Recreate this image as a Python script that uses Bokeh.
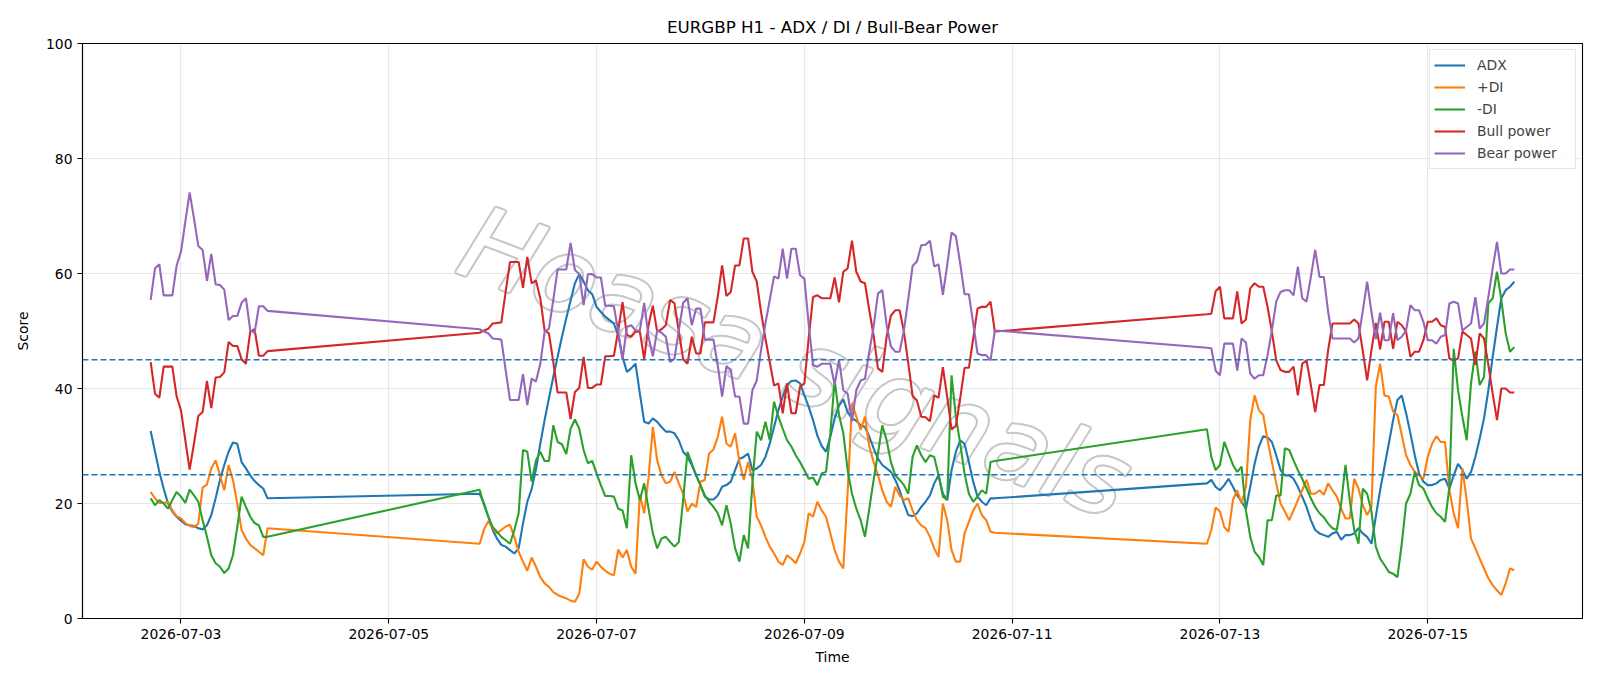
import numpy as np
import pandas as pd
from bokeh.plotting import figure
from bokeh.models import Range1d, FixedTicker, DatetimeTickFormatter, Span, ColumnDataSource
from bokeh.embed import file_html
from bokeh.resources import INLINE
from bokeh.core.properties import value

# Hourly bars, three trading stretches separated by the weekends
session_starts = ["2026-07-02 17:00", "2026-07-05 21:00", "2026-07-12 21:00"]
session_lengths = [28, 120, 72]

adx = [
    32.6, 29.0, 25.5, 22.6, 20.0, 18.6, 17.7, 17.0, 16.4, 16.2, 16.1, 15.7, 15.5, 16.2,
    18.0, 20.9, 24.1, 26.7, 29.0, 30.6, 30.4, 27.2, 26.1, 24.9, 23.9, 23.2, 22.6, 20.9,
    # week 2
    21.7, 20.0, 17.7, 15.4, 13.9, 12.8, 12.5, 11.9, 11.3, 12.2,
    16.5, 20.3, 22.5, 26.0, 30.4, 34.5, 38.3, 42.0, 45.5, 49.0,
    52.2, 55.3, 58.3, 59.9, 58.6, 57.1, 56.4, 54.2, 53.3, 52.5,
    51.9, 51.3, 49.3, 45.5, 42.9, 43.5, 44.3, 39.1, 34.2, 33.9,
    34.8, 34.2, 33.3, 32.5, 32.5, 32.2, 31.0, 29.0, 28.1, 26.7,
    24.9, 23.2, 21.2, 20.7, 20.7, 21.4, 22.9, 23.2, 23.8, 25.8,
    27.8, 28.1, 28.7, 25.8, 26.1, 26.7, 28.1, 30.4, 33.3, 36.2,
    38.6, 40.6, 41.3, 41.4, 40.9, 38.8, 36.8, 34.5, 31.8, 30.0,
    29.0, 31.6, 34.8, 37.0, 38.1, 35.9, 34.8, 34.4, 33.6, 33.3,
    31.6, 29.6, 27.8, 26.7, 26.1, 25.5, 24.1, 22.3, 20.0, 18.0,
    17.8, 18.3, 19.4, 20.3, 21.4, 23.5, 24.9, 21.7, 20.6, 25.8,
    29.0, 31.0, 30.4, 27.2, 23.8, 21.2, 20.3, 19.7, 20.9, 20.9,
    # week 3
    23.5, 24.1, 22.9, 22.3, 23.2, 24.3, 22.9, 21.4, 20.3, 19.1,
    22.9, 26.9, 29.9, 31.7, 31.5, 30.7, 28.4, 25.8, 24.9, 24.9,
    24.3, 22.9, 21.2, 19.4, 17.1, 15.4, 14.8, 14.5, 14.2, 14.8,
    15.1, 13.7, 14.5, 14.5, 14.8, 15.7, 14.8, 14.2, 13.0, 17.7,
    22.3, 26.4, 30.4, 34.5, 38.0, 38.8, 35.7, 32.2, 28.4, 25.2,
    23.8, 23.2, 23.2, 23.5, 24.1, 24.3, 22.6, 24.9, 26.9, 25.8,
    24.3, 25.5, 28.1, 31.3, 34.8, 39.7, 45.5, 50.7, 55.7, 57.1,
    57.7, 58.6,
]

plus_di = [
    22.0, 20.9, 20.1, 20.1, 20.3, 18.8, 17.8, 17.4, 16.6, 16.1, 15.9, 16.5, 22.8, 23.3,
    26.1, 27.5, 24.9, 22.3, 26.7, 24.1, 20.0, 15.4, 13.9, 12.8, 12.2, 11.6, 11.0, 15.7,
    # week 2
    13.0, 15.5, 16.9, 15.7, 14.8, 15.4, 16.0, 16.3, 14.2, 11.6,
    9.9, 8.3, 10.6, 9.0, 7.2, 6.1, 5.5, 4.6, 4.1, 3.8,
    3.5, 3.1, 2.9, 4.3, 10.3, 9.0, 8.5, 9.9, 9.0, 8.3,
    7.8, 7.5, 12.0, 10.6, 11.9, 9.0, 7.8, 21.5, 18.3, 24.5,
    33.3, 27.5, 24.9, 23.5, 23.8, 25.5, 23.5, 21.7, 18.6, 20.0,
    19.4, 23.8, 24.1, 28.7, 29.4, 31.6, 35.1, 30.4, 29.9, 32.2,
    27.2, 24.1, 27.2, 24.1, 17.7, 16.2, 14.2, 12.5, 11.3, 9.9,
    9.3, 11.0, 10.4, 9.6, 11.3, 13.3, 18.3, 17.7, 20.3, 18.8,
    17.7, 14.8, 11.9, 9.9, 8.7, 22.0, 37.4, 35.1, 32.8, 35.1,
    29.9, 27.2, 24.9, 22.3, 20.3, 19.4, 22.9, 21.4, 20.6, 20.9,
    18.8, 17.1, 16.2, 15.7, 14.2, 12.2, 10.7, 20.0, 17.1, 11.9,
    9.9, 9.9, 14.8, 16.8, 18.8, 20.0, 18.0, 17.1, 15.1, 14.9,
    # week 3
    13.0, 15.4, 19.3, 18.6, 15.9, 15.1, 20.6, 22.3, 20.0, 22.9,
    34.5, 38.8, 36.2, 35.4, 31.0, 27.2, 23.5, 20.0, 18.6, 17.1,
    18.8, 20.6, 22.3, 24.1, 21.7, 21.7, 22.3, 21.5, 23.5, 22.3,
    21.2, 19.1, 17.4, 17.4, 24.3, 22.6, 19.7, 18.0, 19.4, 40.3,
    44.3, 38.8, 38.6, 36.0, 35.4, 31.9, 28.4, 26.7, 25.5, 24.9,
    24.3, 28.1, 30.4, 31.7, 30.7, 30.7, 22.3, 18.3, 15.7, 26.1,
    20.6, 13.9, 12.2, 10.4, 8.7, 7.0, 5.8, 4.9, 4.1, 6.1,
    8.7, 8.4,
]

minus_di = [
    20.9, 19.7, 20.6, 20.0, 19.1, 20.6, 22.0, 21.2, 20.1, 22.4, 21.4, 20.3, 17.1, 14.2,
    11.0, 9.6, 9.0, 7.9, 8.7, 11.0, 15.9, 21.2, 19.4, 17.7, 16.6, 16.2, 14.2, 14.2,
    # week 2
    22.4, 19.7, 17.7, 15.9, 15.1, 14.2, 13.6, 13.0, 15.4, 18.3,
    29.3, 29.0, 23.8, 27.5, 29.0, 27.4, 27.4, 33.6, 30.7, 30.3,
    28.6, 33.0, 34.6, 33.0, 29.3, 27.0, 27.4, 25.2, 23.2, 21.3,
    21.3, 21.2, 19.1, 18.8, 15.7, 28.4, 23.5, 20.6, 23.5, 19.1,
    14.8, 12.2, 13.9, 14.2, 13.3, 12.5, 13.3, 20.6, 29.0, 27.0,
    24.9, 23.2, 21.4, 20.3, 19.4, 18.3, 16.2, 19.7, 16.5, 12.2,
    9.9, 14.5, 12.2, 23.5, 32.5, 31.0, 34.2, 31.0, 37.7, 35.1,
    33.0, 31.0, 29.9, 28.4, 27.2, 25.8, 24.3, 24.5, 23.2, 25.2,
    25.5, 32.2, 41.4, 35.4, 32.2, 25.8, 21.7, 19.1, 17.1, 14.2,
    19.1, 24.1, 28.7, 33.6, 31.0, 27.2, 24.9, 24.1, 23.2, 21.7,
    28.1, 30.1, 28.4, 27.2, 28.4, 28.1, 24.9, 21.2, 20.6, 42.3,
    35.1, 30.4, 25.2, 21.7, 20.3, 21.2, 22.3, 21.7, 27.2, 27.4,
    # week 3
    32.9, 28.1, 25.8, 26.7, 30.7, 28.7, 26.7, 25.5, 26.4, 18.8,
    14.2, 11.6, 10.7, 9.3, 17.1, 17.1, 21.4, 21.4, 29.6, 29.3,
    27.5, 25.8, 24.3, 22.6, 20.9, 19.4, 18.3, 17.6, 16.5, 15.7,
    15.4, 20.0, 26.7, 20.5, 15.5, 13.0, 22.6, 21.7, 18.6, 12.5,
    10.4, 9.3, 8.1, 7.8, 7.2, 13.0, 20.0, 21.7, 25.5, 23.2,
    22.6, 20.9, 19.4, 18.3, 17.7, 16.8, 22.9, 46.9, 39.7, 35.1,
    31.0, 40.9, 46.4, 40.6, 42.0, 54.8, 55.7, 60.3, 55.4, 49.6,
    46.4, 47.2,
]

bull_power = [
    44.6, 39.1, 38.4, 43.8, 43.8, 43.8, 38.6, 36.2, 31.0, 25.9, 30.4, 35.2, 35.9, 41.3,
    36.6, 41.9, 42.0, 42.8, 48.1, 47.4, 47.4, 45.1, 44.3, 49.9, 50.3, 45.7, 45.7, 46.5,
    # week 2
    49.7, 50.1, 50.4, 51.3, 51.4, 51.5, 56.8, 62.0, 62.0, 62.0,
    57.5, 62.9, 58.3, 58.8, 55.7, 50.1, 49.6, 44.6, 39.3, 39.3,
    39.3, 34.7, 39.4, 40.1, 45.5, 40.1, 40.1, 40.7, 40.7, 45.6,
    45.6, 45.7, 50.1, 55.0, 49.3, 49.0, 49.9, 49.9, 45.1, 51.0,
    54.4, 49.9, 50.3, 51.0, 55.4, 54.8, 49.9, 45.1, 44.3, 49.0,
    46.1, 46.1, 51.5, 51.5, 51.5, 56.0, 61.4, 56.1, 56.8, 61.4,
    61.4, 66.1, 66.1, 60.3, 58.6, 53.3, 48.7, 44.6, 40.5, 40.9,
    35.7, 40.9, 35.7, 35.7, 40.3, 40.9, 48.8, 55.9, 56.2, 55.7,
    55.7, 55.7, 59.3, 55.0, 60.3, 60.9, 65.7, 60.3, 58.6, 58.3,
    53.6, 49.2, 43.5, 42.9, 49.0, 52.7, 53.6, 53.6, 49.9, 44.4,
    38.7, 37.9, 35.1, 35.0, 34.3, 38.8, 38.4, 43.7, 38.5, 32.9,
    33.5, 38.3, 43.6, 43.6, 48.7, 53.9, 54.2, 54.2, 55.1, 49.9,
    # week 3
    52.9, 53.0, 56.9, 57.7, 52.2, 52.2, 52.2, 56.9, 51.3, 52.0,
    57.4, 58.3, 57.7, 57.7, 54.2, 49.9, 44.9, 43.2, 42.9, 42.9,
    43.8, 38.8, 44.3, 44.9, 40.6, 35.9, 40.6, 40.6, 46.7, 51.3,
    51.3, 51.3, 51.3, 51.3, 52.0, 51.3, 46.5, 41.4, 46.7, 51.4,
    46.8, 51.6, 51.6, 46.9, 51.6, 51.0, 49.9, 45.5, 46.4, 46.4,
    48.4, 51.6, 51.6, 52.2, 51.0, 50.7, 45.2, 44.9, 45.2, 49.9,
    49.3, 48.7, 44.1, 49.6, 48.7, 44.1, 39.1, 34.5, 40.0, 40.0,
    39.3, 39.3,
]

bear_power = [
    55.4, 60.9, 61.6, 56.2, 56.2, 56.2, 61.4, 63.8, 69.0, 74.1, 69.6, 64.8, 64.1, 58.7,
    63.4, 58.1, 58.0, 57.2, 51.9, 52.6, 52.6, 54.9, 55.7, 50.1, 49.7, 54.3, 54.3, 53.5,
    # week 2
    50.3, 49.9, 49.6, 48.7, 48.6, 48.5, 43.2, 38.0, 38.0, 38.0,
    42.5, 37.1, 41.7, 41.2, 44.3, 49.9, 50.4, 55.4, 60.7, 60.7,
    60.7, 65.3, 60.6, 59.9, 54.5, 59.9, 59.9, 59.3, 59.3, 54.4,
    54.4, 54.3, 49.9, 45.0, 50.7, 51.0, 50.1, 50.1, 54.9, 49.0,
    45.6, 50.1, 49.7, 49.0, 44.6, 45.2, 50.1, 54.9, 55.7, 51.0,
    53.9, 53.9, 48.5, 48.5, 48.5, 44.0, 38.6, 43.9, 43.2, 38.6,
    38.6, 33.9, 33.9, 39.7, 41.4, 46.7, 51.3, 55.4, 59.5, 59.1,
    64.3, 59.1, 64.3, 64.3, 59.7, 59.1, 51.2, 44.1, 43.8, 44.3,
    44.3, 44.3, 40.7, 45.0, 39.7, 39.1, 34.3, 39.7, 41.4, 41.7,
    46.4, 50.8, 56.5, 57.1, 51.0, 47.3, 46.4, 46.4, 50.1, 55.6,
    61.3, 62.1, 64.9, 65.0, 65.7, 61.2, 61.6, 56.3, 61.5, 67.1,
    66.5, 61.7, 56.4, 56.4, 51.3, 46.1, 45.8, 45.8, 44.9, 50.1,
    # week 3
    47.1, 47.0, 43.1, 42.3, 47.8, 47.8, 47.8, 43.1, 48.7, 48.0,
    42.6, 41.7, 42.3, 42.3, 45.8, 50.1, 55.1, 56.8, 57.1, 57.1,
    56.2, 61.2, 55.7, 55.1, 59.4, 64.1, 59.4, 59.4, 53.3, 48.7,
    48.7, 48.7, 48.7, 48.7, 48.0, 48.7, 53.5, 58.6, 53.3, 48.6,
    53.2, 48.4, 48.4, 53.1, 48.4, 49.0, 50.1, 54.5, 53.6, 53.6,
    51.6, 48.4, 48.4, 47.8, 49.0, 49.3, 54.8, 55.1, 54.8, 50.1,
    50.7, 51.3, 55.9, 50.4, 51.3, 55.9, 60.9, 65.5, 60.0, 60.0,
    60.7, 60.7,
]

tick_dates = ["2026-07-03", "2026-07-05", "2026-07-07", "2026-07-09",
              "2026-07-11", "2026-07-13", "2026-07-15"]
threshold_levels = [25, 45]

times = pd.DatetimeIndex(np.concatenate([
    pd.date_range(s, periods=n, freq="h").values
    for s, n in zip(session_starts, session_lengths)
]))

source = ColumnDataSource(dict(
    t=times, adx=adx, pdi=plus_di, mdi=minus_di, bull=bull_power, bear=bear_power,
))

pad = (times[-1] - times[0]) * 0.05
x_range = Range1d(times[0] - pad, times[-1] + pad)

FONT = "DejaVu Sans"

p = figure(
    width=1600, height=686,
    x_axis_type="datetime",
    x_range=x_range, y_range=Range1d(0, 100),
    output_backend="svg", toolbar_location=None,
    min_border_left=82, min_border_right=18,
    min_border_top=43, min_border_bottom=68,
    title="EURGBP H1 - ADX / DI / Bull-Bear Power",
)
p.background_fill_color = "white"
p.border_fill_color = "white"
p.outline_line_color = "black"
p.outline_line_width = 1.1

p.title.align = "center"
p.title.text_font = FONT
p.title.text_font_size = "16.7px"
p.title.text_font_style = "normal"
p.title.text_color = "black"
p.title.standoff = 13

# outlined watermark behind the series: grey copies nudged around, white fill on top
wm_x = pd.Timestamp("2026-07-08 22:00")
wm_y = 44.6
wm_kw = dict(angle=-0.36, text_align="center", text_baseline="middle",
             text_font=value(FONT), text_font_style="italic", text_font_size="102px")
ring = [(2.0 * np.cos(a), 2.0 * np.sin(a)) for a in np.linspace(0, 2 * np.pi, 12, endpoint=False)]
for dx, dy in ring:
    p.text(x=[wm_x], y=[wm_y], text=["Hoasa signals"], x_offset=dx, y_offset=dy,
           text_color="#c8c8c8", **wm_kw)
p.text(x=[wm_x], y=[wm_y], text=["Hoasa signals"], text_color="white", **wm_kw)

for lvl in threshold_levels:
    p.add_layout(Span(location=lvl, dimension="width", line_color="#1f77b4",
                      line_dash="6 3", line_width=1.3))

series = [
    ("adx", "ADX", "#1f77b4"),
    ("pdi", "+DI", "#ff7f0e"),
    ("mdi", "-DI", "#2ca02c"),
    ("bull", "Bull power", "#d62728"),
    ("bear", "Bear power", "#9467bd"),
]
for col, label, color in series:
    p.line("t", col, source=source, line_color=color, line_width=2.1, legend_label=label)

p.xaxis.ticker = FixedTicker(ticks=[pd.Timestamp(d).value // 10**6 for d in tick_dates])
fmt = "%Y-%m-%d"
p.xaxis.formatter = DatetimeTickFormatter(
    milliseconds=fmt, seconds=fmt, minsec=fmt, minutes=fmt, hourmin=fmt,
    hours=fmt, days=fmt, months=fmt, years=fmt,
)
p.yaxis.ticker = FixedTicker(ticks=[0, 20, 40, 60, 80, 100])

p.xaxis.axis_label = "Time"
p.yaxis.axis_label = "Score"
for ax in (p.xaxis, p.yaxis):
    ax.axis_label_text_font = FONT
    ax.axis_label_text_font_size = "13.9px"
    ax.axis_label_text_font_style = "normal"
    ax.axis_label_text_color = "black"
    ax.major_label_text_font = FONT
    ax.major_label_text_font_size = "13.9px"
    ax.major_label_text_color = "black"
    ax.axis_line_color = "black"
    ax.axis_line_width = 1.1
    ax.major_tick_line_color = "black"
    ax.major_tick_line_width = 1.1
    ax.major_tick_out = 5
    ax.major_tick_in = 0
    ax.minor_tick_line_color = None
    ax.major_label_standoff = 5
p.xaxis.axis_label_standoff = 7
p.yaxis.axis_label_standoff = 12

p.grid.grid_line_color = "#b0b0b0"
p.grid.grid_line_alpha = 0.3
p.grid.grid_line_width = 1.1

lg = p.legend[0]
lg.location = "top_right"
lg.margin = 6
lg.padding = 4
lg.spacing = 0
lg.label_text_font = FONT
lg.label_text_font_size = "13.9px"
lg.label_height = 22
lg.glyph_height = 22
lg.glyph_width = 31
lg.label_standoff = 12
lg.label_width = 94
lg.border_line_color = "#cccccc"
lg.border_line_width = 1
lg.background_fill_alpha = 0.8

open("out.html", "w").write(file_html(p, INLINE))
